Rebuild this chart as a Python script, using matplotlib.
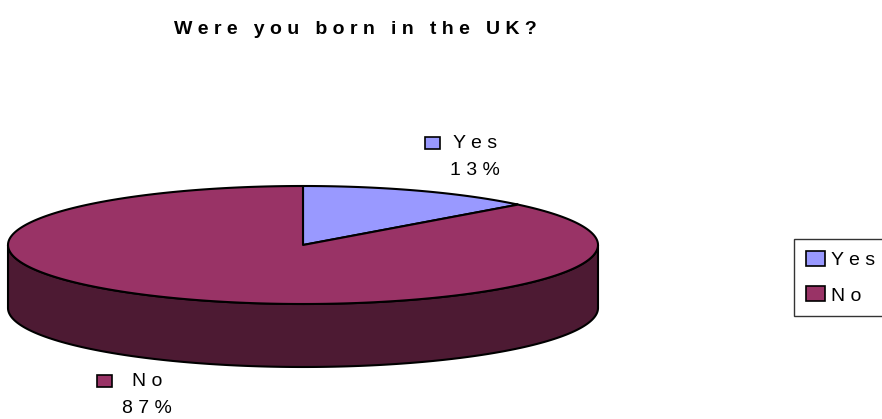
import numpy as np
import matplotlib
matplotlib.use('Agg')
import matplotlib.pyplot as plt
from matplotlib.patches import Polygon, Rectangle

# === data ===
title = 'Were you born in the UK?'
labels = ['Yes', 'No']
shares = [13, 87]
colors = ['#9999FF', '#993366']

FONT = ['Liberation Sans', 'DejaVu Sans']


def spread(s, gap=' ', word_gap='   '):
    # wide letter spacing like the old Excel charts
    return word_gap.join(gap.join(w) for w in s.split(' '))


def darker(c, f=0.5):
    rgb = np.array(matplotlib.colors.to_rgb(c))
    return tuple(rgb * f)


fig = plt.figure(figsize=(8.82, 4.19), dpi=100)
ax = fig.add_axes([0, 0, 1, 1])
ax.set_xlim(0, 882)
ax.set_ylim(419, 0)
ax.axis('off')

# pie geometry (pixels)
cx, cy, rx, ry, depth = 303, 245, 295, 59, 63


def rim(a0, a1, n=300, dy=0):
    t = np.radians(np.linspace(a0, a1, n))
    return np.column_stack([cx + rx * np.cos(t), cy - ry * np.sin(t) + dy])


# slice angles, starting at 12 o'clock and going clockwise
fracs = np.array(shares) / np.sum(shares)
ends = 90 - 360 * np.cumsum(fracs)
starts = np.concatenate([[90], ends[:-1]])

# front wall (visible part is between 180 and 360 deg, i.e. -180..0 here)
for a0, a1, c in zip(starts, ends, colors):
    lo, hi = max(a1, -180), min(a0, 0)
    if hi <= lo:
        continue
    top = rim(hi, lo)
    bot = rim(lo, hi, dy=depth)
    ax.add_patch(Polygon(np.vstack([top, bot]), closed=True,
                         facecolor=darker(c), edgecolor='black', lw=1.5,
                         joinstyle='round'))

# top face
for a0, a1, c in zip(starts, ends, colors):
    pts = np.vstack([[cx, cy], rim(a0, a1)])
    ax.add_patch(Polygon(pts, closed=True, facecolor=c, edgecolor='black',
                         lw=1.5, joinstyle='round'))

# slice labels: key square, name, percentage
label_pos = [(475, 143), (147, 381)]
for (lx, ly), name, v, c in zip(label_pos, labels, shares, colors):
    ax.text(lx, ly, spread(name), family=FONT, fontsize=14,
            ha='center', va='center')
    ax.add_patch(Rectangle((lx - 50, ly - 6), 15, 12, facecolor=c,
                           edgecolor='black', lw=1.2))
    ax.text(lx, ly + 27, spread(f'{v}%'), family=FONT, fontsize=14,
            ha='center', va='center')

ax.text(355, 29, spread(title), family=FONT, fontsize=14,
        fontweight='bold', ha='center', va='center')

# legend on the right
handles = [Rectangle((0, 0), 1, 1, facecolor=c, edgecolor='black', lw=1.2)
           for c in colors]
leg = fig.legend(handles, [spread(l) for l in labels],
                 loc='upper left', bbox_to_anchor=(794 / 882, 1 - 239 / 419),
                 prop={'family': FONT, 'size': 14}, frameon=True,
                 fancybox=False, handlelength=1.0, handleheight=0.8,
                 handletextpad=0.3, borderpad=0.6, labelspacing=0.9,
                 borderaxespad=0)
leg.get_frame().set_edgecolor('black')
leg.get_frame().set_linewidth(1.0)

fig.savefig('out.png', dpi=100, facecolor='white')
